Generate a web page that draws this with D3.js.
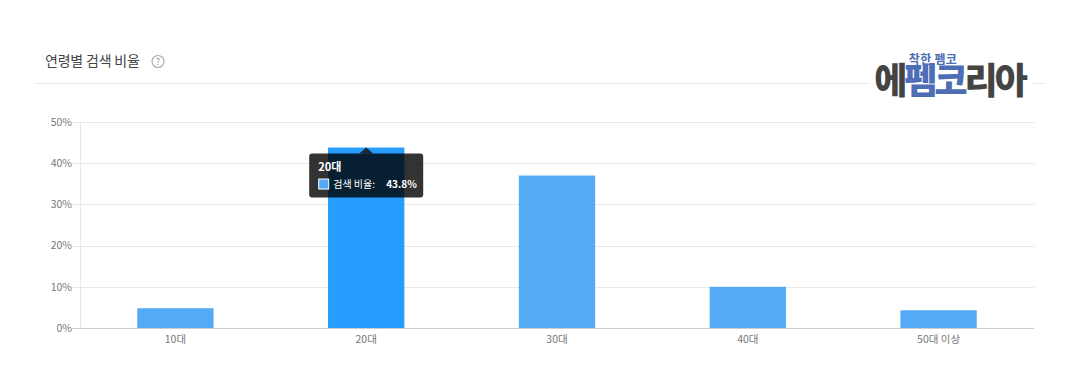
<!DOCTYPE html>
<html><head><meta charset="utf-8">
<script src="https://cdn.jsdelivr.net/npm/d3@7"></script>
<style>html,body{margin:0;padding:0;background:#fff}svg{display:block}
text{font-family:"Noto Sans CJK KR","Noto Sans",sans-serif}</style></head>
<body><svg id="c" width="1080" height="391"></svg>
<script>
const categories=["10대","20대","30대","40대","50대 이상"];
const values=[4.8,43.8,37,10,4.3];
const yTicks=[0,10,20,30,40,50];
const activeCategory="20대";
const title="연령별 검색 비율";
const seriesName="검색 비율";
const logoTop="착한 펨코";
const logoParts=[["에","#444"],["펨","#4d6db5"],["코","#4d6db5"],["리","#444"],["아","#444"]];

const svg=d3.select("#c");
const x=d3.scaleBand().domain(categories).range([80,1034]).paddingInner(0.6).paddingOuter(0.3);
const y=d3.scaleLinear().domain([0,50]).range([328,122]);

svg.append("text").attr("x",45).attr("y",66).attr("font-size",14).attr("fill","#444").attr("letter-spacing",-0.2).text(title);
svg.append("circle").attr("cx",158).attr("cy",61.5).attr("r",6).attr("fill","none").attr("stroke","#aaa").attr("stroke-width",1.1);
svg.append("text").attr("x",158).attr("y",65).attr("font-size",9).attr("text-anchor","middle").attr("fill","#999").text("?");
svg.append("line").attr("x1",36).attr("x2",1044).attr("y1",83.5).attr("y2",83.5).attr("stroke","#e8e8e8");

const yAxis=d3.axisLeft(y).tickValues(yTicks).tickSize(0).tickPadding(8).tickFormat(d=>d+"%");
const gy=svg.append("g").attr("transform","translate(80,0)").call(yAxis);
gy.select(".domain").remove();
gy.selectAll("text").attr("font-size",10.5).attr("fill","#777");
svg.append("g").selectAll("line").data(yTicks).join("line")
 .attr("x1",72).attr("x2",1034).attr("y1",d=>Math.round(y(d))+.5).attr("y2",d=>Math.round(y(d))+.5)
 .attr("stroke",d=>d===0?"#ccc":"#e8e8e8");
svg.append("line").attr("x1",80.5).attr("x2",80.5).attr("y1",122).attr("y2",328).attr("stroke","#e8e8e8");

svg.append("g").selectAll("rect").data(categories).join("rect")
 .attr("x",d=>x(d)).attr("width",x.bandwidth())
 .attr("y",(d,i)=>y(values[i])).attr("height",(d,i)=>y(0)-y(values[i]))
 .attr("fill",d=>d===activeCategory?"#279dff":"#53aaf5");

const xAxis=d3.axisBottom(x).tickSize(0).tickPadding(8);
const gx=svg.append("g").attr("transform","translate(0,328)").call(xAxis);
gx.select(".domain").remove();
gx.selectAll("text").attr("font-size",10.5).attr("fill","#777");

// tooltip
const ai=categories.indexOf(activeCategory);
const cx=x(activeCategory)+x.bandwidth()/2;
const barTop=y(values[ai]);
const bx=cx-57,by=barTop+6,bw=114,bh=44;
const tt=svg.append("g");
tt.append("path").attr("d",`M${cx-7},${by} L${cx},${by-6} L${cx+7},${by} Z`).attr("fill","#1c2733");
tt.append("rect").attr("x",bx).attr("y",by).attr("width",bw).attr("height",bh).attr("rx",3).attr("fill","#000").attr("fill-opacity",.8);
tt.append("text").attr("x",bx+9).attr("y",by+17).attr("font-size",11).attr("font-weight",700).attr("fill","#fff").text(activeCategory);
tt.append("rect").attr("x",bx+9.5).attr("y",by+25.5).attr("width",10).attr("height",10).attr("fill","#53aaf5").attr("stroke","#fff");
tt.append("text").attr("x",bx+24).attr("y",by+34).attr("font-size",10).attr("fill","#fff").text(seriesName+":");
tt.append("text").attr("x",bx+77).attr("y",by+34).attr("font-size",10).attr("font-weight",700).attr("fill","#fff").text(values[ai]+"%");

// logo
svg.append("rect").attr("x",868).attr("y",76).attr("width",165).attr("height",16).attr("fill","#fff");
svg.append("text").attr("x",933).attr("y",64).attr("font-size",12).attr("font-weight",700).attr("text-anchor","middle").attr("fill","#4d6db5").attr("letter-spacing",.3).text(logoTop);
const logo=svg.append("text").attr("x",949.5).attr("y",94).attr("font-size",36).attr("font-weight",900).attr("text-anchor","middle").attr("letter-spacing",-3);
logo.selectAll("tspan").data(logoParts).join("tspan").attr("fill",d=>d[1]).text(d=>d[0]);
</script></body></html>
